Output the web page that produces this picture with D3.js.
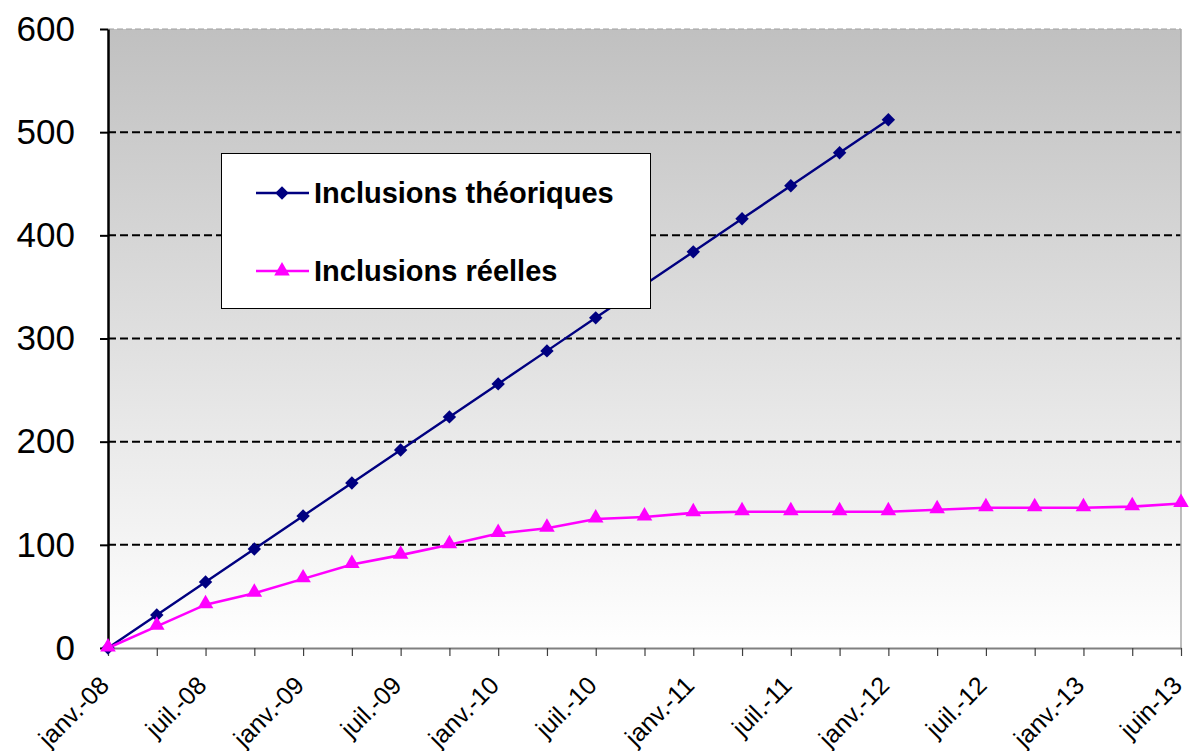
<!DOCTYPE html>
<html><head><meta charset="utf-8">
<script src="https://cdn.jsdelivr.net/npm/d3@7"></script>
<style>body{margin:0;background:#fff}svg{display:block}</style>
</head><body>
<svg id="c" width="1189" height="751"></svg>
<script>
const categories = d3.range(23);
const tickLabels = ["janv.-08","juil.-08","janv.-09","juil.-09","janv.-10","juil.-10","janv.-11","juil.-11","janv.-12","juil.-12","janv.-13","juin-13"];
const theoretical = [0,32,64,96,128,160,192,224,256,288,320,352,384,416,448,480,512];
const reelles = [0,21,42,53,67,81,90,100,111,116,125,127,131,132,132,132,132,134,136,136,136,137,140];
const yTicks = [0,100,200,300,400,500,600];

const svg = d3.select("#c");
const L = 108, R = 1181, T = 29, B = 648;
const x = d3.scalePoint().domain(categories).range([L, R]);
const y = d3.scaleLinear().domain([0,600]).range([B, T]);
const FONT = "Liberation Sans, Arial, sans-serif";

const defs = svg.append("defs");
const g = defs.append("linearGradient").attr("id","bg").attr("x1",0).attr("y1",0).attr("x2",0).attr("y2",1);
g.append("stop").attr("offset","0%").attr("stop-color","#c0c0c0");
g.append("stop").attr("offset","100%").attr("stop-color","#ffffff");

svg.append("rect").attr("x",L).attr("y",T).attr("width",R-L).attr("height",B-T).attr("fill","url(#bg)");

// gridlines
svg.append("g").selectAll("line").data(yTicks.filter(d=>d>0&&d<600)).join("line")
  .attr("x1",L).attr("x2",R).attr("y1",d=>y(d)).attr("y2",d=>y(d))
  .attr("stroke","#000").attr("stroke-width",2).attr("stroke-dasharray","8,4");
// top border dashed gray
svg.append("line").attr("x1",L).attr("x2",R).attr("y1",y(600)).attr("y2",y(600))
  .attr("stroke","#a0a0a0").attr("stroke-width",1.2).attr("stroke-dasharray","6,3");
// right border
svg.append("line").attr("x1",R).attr("x2",R).attr("y1",T).attr("y2",B)
  .attr("stroke","#a8a8a8").attr("stroke-width",1.5);

// x axis
const xAxis = d3.axisBottom(x).tickSize(8).tickSizeOuter(0).tickFormat(d => d%2===0 ? tickLabels[d/2] : "");
const xa = svg.append("g").attr("transform",`translate(0,${B})`).call(xAxis);
xa.select(".domain").attr("stroke","#808080").attr("stroke-width",2);
xa.selectAll(".tick line").attr("stroke","#404040").attr("stroke-width",1.2);
xa.selectAll("text").attr("font-family",FONT).attr("font-size",25)
  .attr("fill","#000").attr("text-anchor","end")
  .attr("x",0).attr("y",0).attr("dy",0)
  .attr("transform","translate(2,39) rotate(-45)");

// y axis
const yAxis = d3.axisLeft(y).tickValues(yTicks).tickSize(8).tickSizeOuter(0).tickPadding(25);
const ya = svg.append("g").attr("transform",`translate(${L},0)`).call(yAxis);
ya.select(".domain").attr("stroke","#000").attr("stroke-width",2.5);
ya.selectAll(".tick line").attr("stroke","#000").attr("stroke-width",2);
ya.selectAll("text").attr("font-family",FONT).attr("font-size",35).attr("fill","#000");

// lines
const line = d3.line().x((d,i)=>x(i)).y(d=>y(d));
svg.append("path").datum(theoretical).attr("d",line).attr("fill","none").attr("stroke","#000080").attr("stroke-width",2.4);
svg.append("path").datum(reelles).attr("d",line).attr("fill","none").attr("stroke","#ff00ff").attr("stroke-width",2.6);

const diamond = d3.symbol().type(d3.symbolSquare).size(90);
const tri = d3.symbol().type(d3.symbolTriangle).size(105);
svg.append("g").selectAll("path").data(theoretical).join("path")
  .attr("d",diamond).attr("transform",(d,i)=>`translate(${x(i)},${y(d)}) rotate(45)`).attr("fill","#000080");
svg.append("g").selectAll("path").data(reelles).join("path")
  .attr("d",tri).attr("transform",(d,i)=>`translate(${x(i)},${y(d)-1})`).attr("fill","#ff00ff");

// legend
const lg = svg.append("g");
lg.append("rect").attr("x",221.5).attr("y",153.5).attr("width",429).attr("height",155)
  .attr("fill","#fff").attr("stroke","#000").attr("stroke-width",1);
const legendItems = [{name:"Inclusions théoriques",color:"#000080",sym:diamond,rot:45,yy:193},{name:"Inclusions réelles",color:"#ff00ff",sym:tri,rot:0,yy:271}];
legendItems.forEach(it=>{
  lg.append("line").attr("x1",256).attr("x2",309).attr("y1",it.yy).attr("y2",it.yy).attr("stroke",it.color).attr("stroke-width",2.5);
  lg.append("path").attr("d",it.sym).attr("transform",`translate(282,${it.yy}) rotate(${it.rot})`).attr("fill",it.color);
  lg.append("text").attr("x",314).attr("y",it.yy).attr("dy","0.35em").text(it.name)
    .attr("font-family",FONT).attr("font-weight","bold").attr("font-size",29).attr("fill","#000");
});
</script>
</body></html>
